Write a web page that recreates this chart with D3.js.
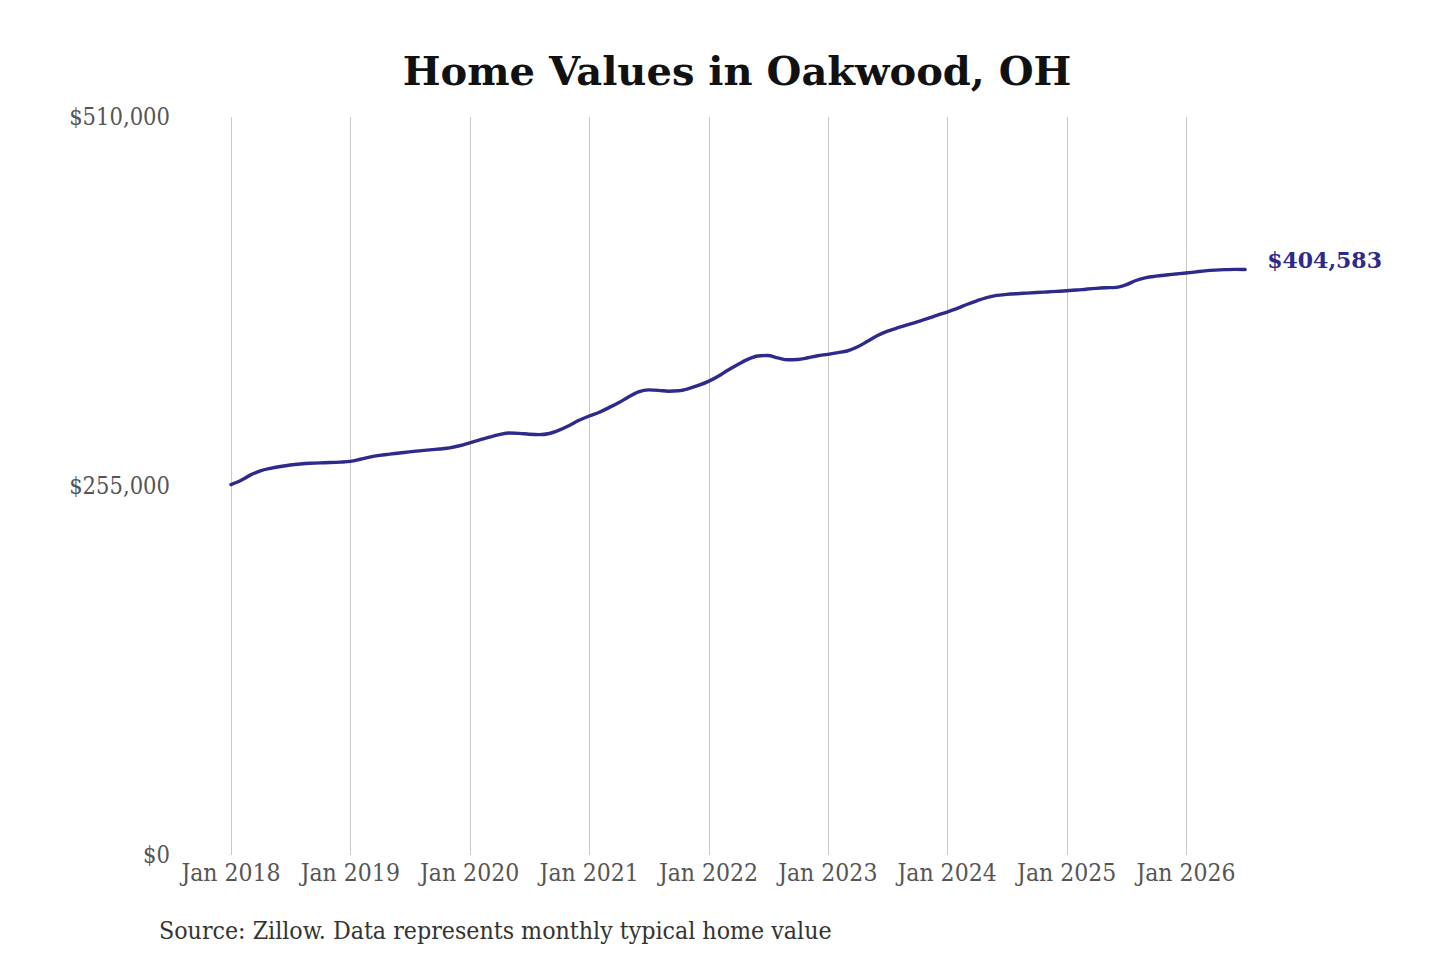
<!DOCTYPE html>
<html>
<head>
<meta charset="utf-8">
<script src="https://cdn.jsdelivr.net/npm/d3@7"></script>
<style>
  html, body { margin: 0; padding: 0; background: #fff; }
  svg { display: block; }
</style>
</head>
<body>
<svg id="chart" width="1440" height="960"></svg>
<script>
const title = "Home Values in Oakwood, OH";
const sourceNote = "Source: Zillow. Data represents monthly typical home value";
const startMonth = "2018-01";
const yTicks = [0, 255000, 510000];
const xTickYears = [2018, 2019, 2020, 2021, 2022, 2023, 2024, 2025, 2026];
const homeValues = [
  256000, 259000, 262500, 265500, 267200, 268500, 269500, 270200, 270700, 271000, 271200, 271500,
  272000, 273500, 275000, 276200, 277000, 277800, 278600, 279300, 280000, 280600, 281300, 282800,
  284800, 286800, 288700, 290500, 291600, 291400, 290800, 290500, 291300, 293600, 296800, 300400,
  303400, 306000, 309000, 312500, 316500, 320000, 321400, 321100, 320500, 320800, 322300, 324500,
  327300, 331000, 335000, 339000, 342500, 344800, 345200, 343500, 342200, 342400, 343600, 345000,
  346000, 347200, 348300, 351000, 354800, 358800, 361800, 364200, 366300, 368400, 370600, 372900,
  375200, 377700, 380400, 383000, 385200, 386700, 387400, 387900, 388300, 388700, 389100, 389500,
  389900, 390400, 391000, 391600, 392000, 392300, 394000, 397000, 399000, 400000, 400800, 401500,
  402200, 403000, 403700, 404200, 404500, 404700, 404583
];

const parse = d3.timeParse("%Y-%m");
const t0 = parse(startMonth);
const data = homeValues.map((v, i) => ({ date: d3.timeMonth.offset(t0, i), value: v }));

const svg = d3.select("#chart");
const serif = "'DejaVu Serif', serif";
const serifCond = "'DejaVu Serif Condensed', 'DejaVu Serif', serif";

const x = d3.scaleTime()
  .domain([new Date(2018, 0, 1), new Date(2026, 0, 1)])
  .range([231, 1186]);
const y = d3.scaleLinear().domain([0, 510000]).range([855, 117]);

// title
svg.append("text")
  .attr("x", 737).attr("y", 85)
  .attr("text-anchor", "middle")
  .attr("font-family", serif).attr("font-weight", "bold")
  .attr("font-size", 40).attr("fill", "#111")
  .text(title);

// vertical gridlines
const xTicks = xTickYears.map(yr => new Date(yr, 0, 1));
svg.append("g").selectAll("line").data(xTicks).join("line")
  .attr("x1", d => Math.round(x(d)) + 0.5).attr("x2", d => Math.round(x(d)) + 0.5)
  .attr("y1", y(510000)).attr("y2", y(0))
  .attr("stroke", "#c8c8c8").attr("stroke-width", 1);

// x labels
const fmtX = d3.timeFormat("Jan %Y");
svg.append("g").selectAll("text").data(xTicks).join("text")
  .attr("x", d => x(d)).attr("y", 881)
  .attr("text-anchor", "middle")
  .attr("font-family", serifCond).attr("font-size", 24.5)
  .attr("fill", "#555")
  .text(d => fmtX(d));

// y labels
const fmtY = v => "$" + d3.format(",")(v);
svg.append("g").selectAll("text").data(yTicks).join("text")
  .attr("x", 170).attr("y", d => y(d) + 8)
  .attr("text-anchor", "end")
  .attr("font-family", serifCond).attr("font-size", 23.5)
  .attr("fill", "#555")
  .text(d => fmtY(d));

// line
const line = d3.line()
  .x(d => x(d.date)).y(d => y(d.value))
  .curve(d3.curveMonotoneX);
svg.append("path").datum(data)
  .attr("d", line)
  .attr("fill", "none")
  .attr("stroke", "#2e2a8c")
  .attr("stroke-width", 3.4)
  .attr("stroke-linecap", "round");

// end label
const last = data[data.length - 1];
svg.append("text")
  .attr("x", x(last.date) + 22).attr("y", y(last.value) - 2)
  .attr("font-family", serif).attr("font-weight", "bold")
  .attr("font-size", 22).attr("fill", "#2e2a8c")
  .text(fmtY(last.value));

// source
svg.append("text")
  .attr("x", 159).attr("y", 939)
  .attr("font-family", serifCond).attr("font-size", 24.7)
  .attr("fill", "#333")
  .text(sourceNote);
</script>
</body>
</html>
